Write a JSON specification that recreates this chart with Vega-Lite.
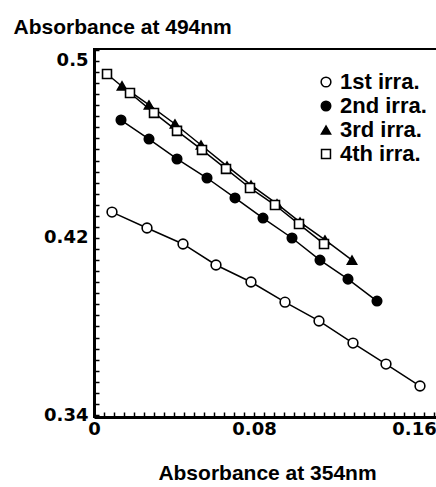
{
  "$schema": "https://vega.github.io/schema/vega-lite/v6.json",
  "width": 346,
  "height": 368,
  "autosize": "none",
  "padding": {"left": 94, "top": 49, "right": 0, "bottom": 70},
  "background": "white",
  "config": {
    "view": {"stroke": "black", "strokeWidth": 2},
    "font": "Liberation Sans",
    "legend": {
      "orient": "none",
      "legendX": 221,
      "legendY": 22,
      "padding": 0,
      "labelFontSize": 22,
      "labelFont": "Liberation Sans",
      "labelFontWeight": "bold",
      "labelColor": "black",
      "labelOffset": 3,
      "labelLimit": 0
    }
  },
  "data": {
    "values": [
      {"series": "1st irra.", "x": 0.009, "y": 0.4317},
      {"series": "1st irra.", "x": 0.0265, "y": 0.4245},
      {"series": "1st irra.", "x": 0.0445, "y": 0.4173},
      {"series": "1st irra.", "x": 0.061, "y": 0.4078},
      {"series": "1st irra.", "x": 0.0785, "y": 0.4001},
      {"series": "1st irra.", "x": 0.0955, "y": 0.391},
      {"series": "1st irra.", "x": 0.1125, "y": 0.3825},
      {"series": "1st irra.", "x": 0.1295, "y": 0.3725},
      {"series": "1st irra.", "x": 0.146, "y": 0.363},
      {"series": "1st irra.", "x": 0.163, "y": 0.3531},
      {"series": "2nd irra.", "x": 0.0135, "y": 0.4733},
      {"series": "2nd irra.", "x": 0.0275, "y": 0.4647},
      {"series": "2nd irra.", "x": 0.0415, "y": 0.4557},
      {"series": "2nd irra.", "x": 0.0565, "y": 0.4471},
      {"series": "2nd irra.", "x": 0.0705, "y": 0.4381},
      {"series": "2nd irra.", "x": 0.0845, "y": 0.429},
      {"series": "2nd irra.", "x": 0.099, "y": 0.42},
      {"series": "2nd irra.", "x": 0.113, "y": 0.41},
      {"series": "2nd irra.", "x": 0.127, "y": 0.4014},
      {"series": "2nd irra.", "x": 0.1415, "y": 0.3915},
      {"series": "3rd irra.", "x": 0.014, "y": 0.4887},
      {"series": "3rd irra.", "x": 0.0275, "y": 0.4801},
      {"series": "3rd irra.", "x": 0.0405, "y": 0.4715},
      {"series": "3rd irra.", "x": 0.0535, "y": 0.462},
      {"series": "3rd irra.", "x": 0.0665, "y": 0.4525},
      {"series": "3rd irra.", "x": 0.0785, "y": 0.4439},
      {"series": "3rd irra.", "x": 0.0915, "y": 0.4354},
      {"series": "3rd irra.", "x": 0.103, "y": 0.4272},
      {"series": "3rd irra.", "x": 0.1155, "y": 0.4191},
      {"series": "3rd irra.", "x": 0.129, "y": 0.41},
      {"series": "4th irra.", "x": 0.0065, "y": 0.4941},
      {"series": "4th irra.", "x": 0.018, "y": 0.4855},
      {"series": "4th irra.", "x": 0.03, "y": 0.4765},
      {"series": "4th irra.", "x": 0.0415, "y": 0.4684},
      {"series": "4th irra.", "x": 0.054, "y": 0.4598},
      {"series": "4th irra.", "x": 0.066, "y": 0.4512},
      {"series": "4th irra.", "x": 0.078, "y": 0.4426},
      {"series": "4th irra.", "x": 0.0905, "y": 0.4349},
      {"series": "4th irra.", "x": 0.1025, "y": 0.4263},
      {"series": "4th irra.", "x": 0.115, "y": 0.4173}
    ]
  },
  "encoding": {
    "x": {
      "field": "x", "type": "quantitative",
      "scale": {"domain": [0, 0.173], "nice": false, "zero": false},
      "axis": {
        "orient": "bottom", "grid": false, "tickCount": 43, "zindex": 1,
        "domainColor": "black", "domainWidth": 3,
        "ticks": true, "tickSize": -5, "tickWidth": 1.5, "tickColor": "black", "tickOpacity": 1,
        "labelExpr": "abs(datum.value) < 1e-6 ? '0' : abs(datum.value - 0.08) < 1e-6 ? '0.08' : abs(datum.value - 0.16) < 1e-6 ? '0.16' : ''",
        "labelOverlap": false, "labelFlush": false,
        "labelFont": "DejaVu Sans", "labelFontWeight": "bold", "labelFontSize": 18, "labelColor": "black", "labelPadding": 8,
        "title": "Absorbance at 354nm", "titleFont": "Liberation Sans", "titleFontSize": 21, "titleFontWeight": "bold", "titleColor": "black", "titleY": 62, "titleBaseline": "alphabetic"
      }
    },
    "y": {
      "field": "y", "type": "quantitative",
      "scale": {"domain": [0.3391, 0.5054], "nice": false, "zero": false},
      "axis": {
        "orient": "left", "grid": false, "tickCount": 40, "zindex": 1,
        "domainColor": "black", "domainWidth": 3,
        "ticks": true, "tickSize": -5, "tickWidth": 1.5, "tickColor": "black", "tickOpacity": 1,
        "labelExpr": "abs(datum.value - 0.34) < 1e-6 ? '0.34' : abs(datum.value - 0.42) < 1e-6 ? '0.42' : abs(datum.value - 0.5) < 1e-6 ? '0.5' : ''",
        "labelOverlap": false, "labelFlush": false,
        "labelFont": "DejaVu Sans", "labelFontWeight": "bold", "labelFontSize": 18, "labelColor": "black", "labelPadding": 11,
        "title": "Absorbance at 494nm", "titleFont": "Liberation Sans", "titleFontSize": 21, "titleFontWeight": "bold", "titleColor": "black", "titleAngle": 0, "titleAlign": "left", "titleBaseline": "alphabetic", "titleX": -81, "titleY": -16
      }
    }
  },
  "layer": [
    {
      "mark": {"type": "line", "color": "black", "strokeWidth": 1.5},
      "encoding": {"detail": {"field": "series"}}
    },
    {
      "mark": {"type": "point", "filled": true, "stroke": "black", "strokeWidth": 1.6, "opacity": 1},
      "encoding": {
        "shape": {
          "field": "series", "type": "nominal",
          "scale": {"domain": ["1st irra.", "2nd irra.", "3rd irra.", "4th irra."], "range": ["circle", "circle", "triangle-up", "square"]},
          "legend": {"title": null, "encode": {"symbols": {"update": {"stroke": {"value": "black"}, "strokeWidth": {"value": 1.5}}}}}
        },
        "fill": {
          "field": "series", "type": "nominal",
          "scale": {"domain": ["1st irra.", "2nd irra.", "3rd irra.", "4th irra."], "range": ["white", "black", "black", "white"]},
          "legend": {"title": null, "encode": {"symbols": {"update": {"stroke": {"value": "black"}, "strokeWidth": {"value": 1.5}}}}}
        },
        "size": {
          "field": "series", "type": "nominal",
          "scale": {"domain": ["1st irra.", "2nd irra.", "3rd irra.", "4th irra."], "range": [95, 80, 28, 50]},
          "legend": {"title": null, "encode": {"symbols": {"update": {"stroke": {"value": "black"}, "strokeWidth": {"value": 1.5}}}}}
        }
      }
    }
  ]
}
